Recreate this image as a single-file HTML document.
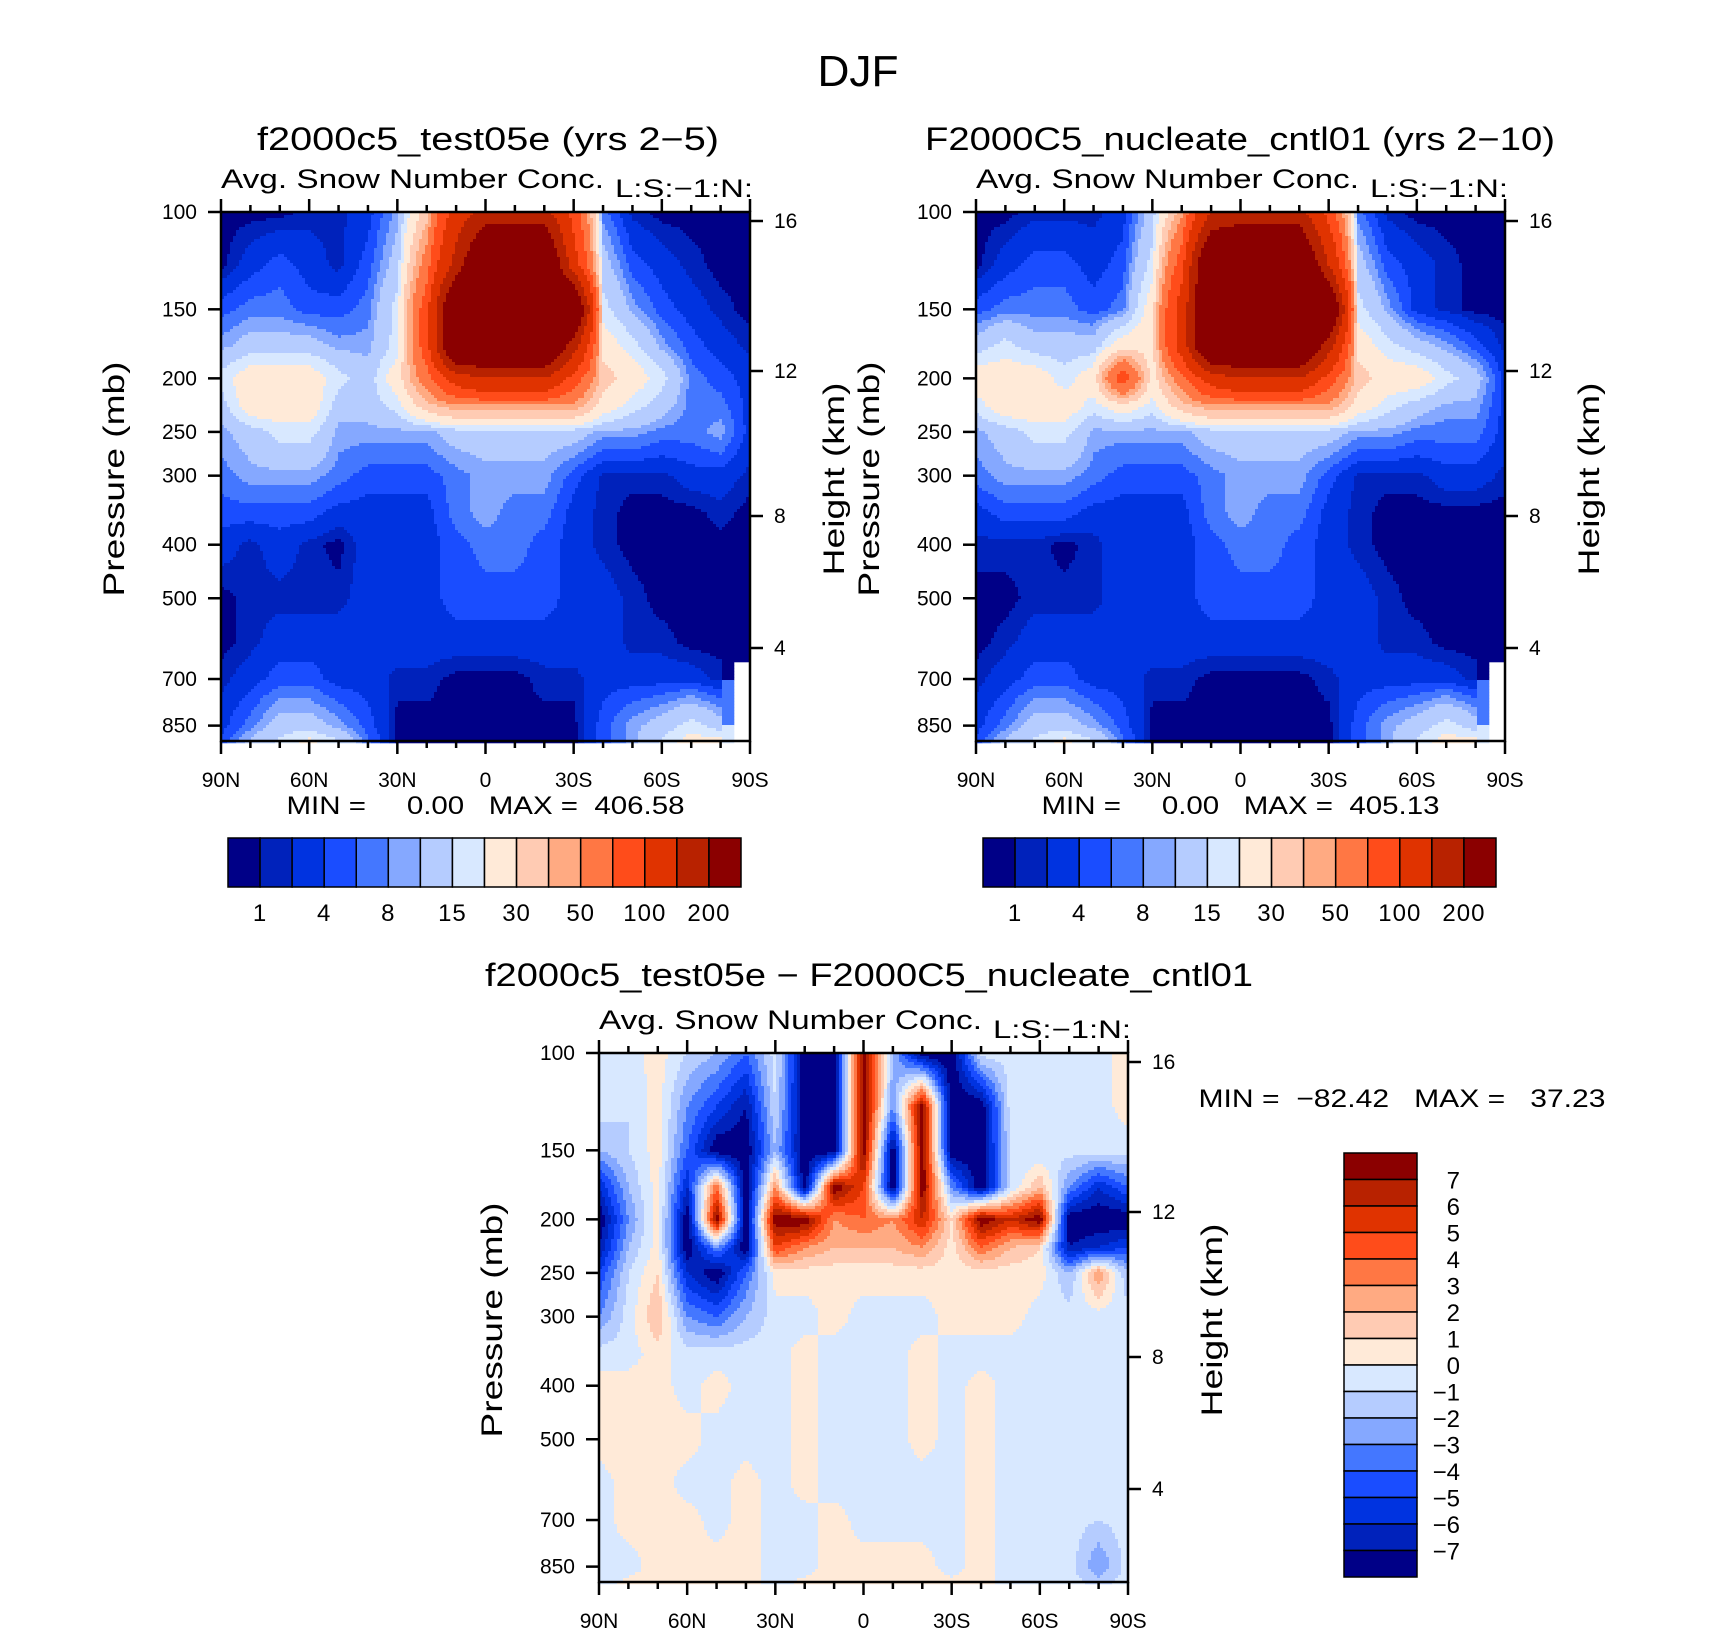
<!DOCTYPE html>
<html><head><meta charset="utf-8"><style>
html,body{margin:0;padding:0;background:#fff;}
svg{display:block;font-family:"Liberation Sans",sans-serif;}
text{fill:#000;white-space:pre;}
</style></head><body>
<svg id="root" width="1710" height="1631" viewBox="0 0 1710 1631" xmlns="http://www.w3.org/2000/svg">
<text x="858" y="86" font-size="44" text-anchor="middle" textLength="81" lengthAdjust="spacingAndGlyphs">DJF</text>
<g id="p1"></g>
<g id="p2"></g>
<g id="p3"></g>
</svg>
<script>
const NS="http://www.w3.org/2000/svg";
const lats=[90,80,70,60,50,40,30,20,10,0,-10,-20,-30,-40,-50,-60,-70,-80,-90];
const pressures=[100,125,150,175,200,225,250,300,350,400,500,600,700,850,925];
const pTicks=[100,150,200,250,300,400,500,700,850];
const latTickVals=[90,60,30,0,-30,-60,-90];
const latTickLabels=["90N","60N","30N","0","30S","60S","90S"];
const hTickLabels=["16","12","8","4"];
const hTickOffsets=[9,159,304,436];
const colors=["#000087","#0022bb","#0033e0","#1a4dff","#4477ff","#85a8ff","#b5ccff","#d8e8ff","#ffead8","#ffcbb3","#ffaa82","#ff7744","#ff4c1a","#e03300","#b82200","#8b0000"];
const levelsAbs=[1,2,4,6,8,10,15,20,30,40,50,70,100,150,200];
const absLabels=["1","4","8","15","30","50","100","200"];
const levelsDiff=[-7,-6,-5,-4,-3,-2,-1,0,1,2,3,4,5,6,7];
const diffLabels=["7","6","5","4","3","2","1","0","−1","−2","−3","−4","−5","−6","−7"];
const N=null;
const field1=[
[0.5,0.5,0.5,1.5,1.5,3,9,35,120,170,170,170,85,7,1.5,0.5,0.5,0.5,0.5],
[0.5,3,5,3,1.5,5,12,60,170,300,300,300,120,12,5,3,1.5,0.5,0.5],
[5,7,7,5,5,7,17,85,300,300,300,300,300,17,9,5,3,1.5,0.5],
[9,12,12,12,9,9,17,85,300,300,300,300,170,25,17,9,5,3,1.5],
[17,25,25,25,17,12,25,60,120,150,150,150,85,35,25,17,7,5,3],
[12,25,25,25,12,12,17,35,45,45,45,45,45,25,17,12,7,7,3],
[9,12,17,17,9,9,9,9,12,12,12,12,12,9,9,7,7,9,3],
[7,9,9,9,7,5,5,5,7,9,9,9,5,1.5,1.5,1.5,3,3,1.5],
[5,5,5,5,3,3,3,3,7,9,7,7,3,1.5,0.5,0.5,0.5,1.5,0.5],
[3,1.5,3,1.5,0.5,3,3,3,5,7,7,5,3,1.5,0.5,0.5,0.5,0.5,0.5],
[0.5,1.5,1.5,1.5,1.5,3,3,3,5,5,5,5,3,3,1.5,0.5,0.5,0.5,0.5],
[0.5,1.5,3,3,3,3,3,3,3,3,3,3,3,3,1.5,1.5,0.5,0.5,0.5],
[1.5,3,5,5,3,3,1.5,1.5,0.5,0.5,0.5,1.5,1.5,3,3,3,3,1.5,N],
[3,7,12,12,9,5,0.5,0.5,0.5,0.5,0.5,0.5,0.5,5,9,12,17,12,N],
[5,12,17,25,17,7,0.5,0.5,0.5,0.5,0.5,0.5,0.5,5,9,17,25,25,N]];
const field2=[
[0.5,0.5,1.5,1.5,1.5,3,12,45,150,170,170,170,85,7,1.5,0.5,0.5,0.5,0.5],
[0.5,3,5,5,3,5,17,85,300,300,300,300,150,12,5,3,1.5,0.5,0.5],
[5,7,7,7,5,7,25,120,300,300,300,300,300,17,9,3,1.5,0.5,0.5],
[12,17,12,12,12,25,25,120,300,300,300,300,170,25,17,12,9,5,1.5],
[25,25,25,17,25,85,25,60,120,150,150,150,85,35,25,25,17,12,3],
[17,25,25,25,17,25,17,35,45,45,45,45,45,25,17,12,9,9,3],
[9,12,17,17,9,9,9,9,12,12,12,12,12,9,9,7,7,7,3],
[7,9,9,9,7,5,5,5,7,9,9,9,5,1.5,1.5,1.5,3,3,1.5],
[3,5,5,5,3,3,3,3,7,9,7,7,3,1.5,0.5,0.5,0.5,0.5,0.5],
[1.5,1.5,1.5,0.5,1.5,3,3,3,5,7,7,5,3,1.5,0.5,0.5,0.5,0.5,0.5],
[0.5,0.5,1.5,1.5,1.5,3,3,3,5,5,5,5,3,3,1.5,0.5,0.5,0.5,0.5],
[0.5,1.5,3,3,3,3,3,3,3,3,3,3,3,3,1.5,1.5,0.5,0.5,0.5],
[1.5,3,5,5,3,3,1.5,1.5,0.5,0.5,0.5,0.5,1.5,3,3,3,3,1.5,N],
[3,7,12,12,9,5,0.5,0.5,0.5,0.5,0.5,0.5,0.5,5,9,12,17,12,N],
[5,12,17,25,17,7,0.5,0.5,0.5,0.5,0.5,0.5,0.5,5,9,17,25,25,N]];
const fieldDiff=[
[-0.5,-0.5,0.5,-1,-2,-4,-0.5,-8,-8,8,-2,-8,-8,-0.5,-0.5,-0.5,-0.5,-0.5,0.5],
[-0.5,-1,0.5,-3,-5,-7,-1,-8,-8,8,-3,8,-8,-8,-0.5,-0.5,-0.5,-0.5,0.5],
[-2,-1,0.5,-4,-8,-8,-2,-8,-8,8,-8,8,-8,-8,-1,-1,-0.5,-0.5,-0.5],
[-6,-2,0.5,-6,4,-8,3,-8,8,5,-8,8,-3,-8,-1,2,-3,-6,-4],
[-8,-3,0.5,-8,8,-8,8,8,3,4,3,6,1,8,6,8,-8,-8,-8],
[-7,-2,0.5,-8,-3,-8,5,3,2,2,2,3,0.5,4,2,1,-7,-6,-5],
[-5,-1,1,-6,-8,-4,0.5,0.5,0.5,0.5,0.5,0.5,0.5,0.5,0.5,0.5,-2,3,-2],
[-3,-0.5,2,-3,-4,-2,-0.5,-0.5,0.5,-0.5,-0.5,-0.5,0.5,0.5,0.5,-0.5,-0.5,-0.5,-0.5],
[-0.5,-0.5,0.5,-0.5,-0.5,-0.5,-0.5,0.5,-0.5,-0.5,-0.5,0.5,-0.5,-0.5,-0.5,-0.5,-0.5,-0.5,-0.5],
[0.5,0.5,0.5,-0.5,0.5,-0.5,-0.5,0.5,-0.5,-0.5,-0.5,0.5,-0.5,0.5,-0.5,-0.5,-0.5,-0.5,-0.5],
[0.5,0.5,0.5,0.5,-0.5,-0.5,-0.5,0.5,-0.5,-0.5,-0.5,0.5,-0.5,0.5,-0.5,-0.5,-0.5,-0.5,-0.5],
[-0.5,0.5,0.5,-0.5,-0.5,0.5,-0.5,0.5,-0.5,-0.5,-0.5,-0.5,-0.5,0.5,-0.5,-0.5,-0.5,-0.5,-0.5],
[-0.5,0.5,0.5,0.5,-0.5,0.5,-0.5,-0.5,0.5,-0.5,-0.5,-0.5,-0.5,0.5,-0.5,-0.5,-0.5,-1,-0.5],
[-0.5,-0.5,0.5,0.5,0.5,0.5,-0.5,-0.5,0.5,0.5,0.5,0.5,-0.5,0.5,-0.5,-0.5,-0.5,-3,-0.5],
[-0.5,0.5,0.5,0.5,0.5,0.5,-0.5,0.5,0.5,0.5,0.5,0.5,0.5,0.5,-0.5,-0.5,-0.5,-1,-0.5]];

const W=529,H=529,K=240;
function el(tag,attrs,parent,txt){const e=document.createElementNS(NS,tag);for(const k in attrs)e.setAttribute(k,attrs[k]);if(txt!==undefined)e.textContent=txt;parent.appendChild(e);return e;}
function xScale(lat){return (90-lat)/180*W;}
function yScale(p){return (Math.log(p)-Math.log(100))*K;}
function binOf(v,levels){let b=0;while(b<levels.length&&v>=levels[b])b++;return b;}
const lnP=pressures.map(p=>Math.log(p));
function sample(data,lat,p){
  const fx=(90-lat)/10;const lp=Math.log(p);
  let r=0;while(r<lnP.length-2&&lp>lnP[r+1])r++;
  let fy=(lp-lnP[r])/(lnP[r+1]-lnP[r]);fy=Math.max(0,Math.min(1,fy));
  let c=Math.min(Math.floor(fx),lats.length-2);const tx=fx-c;
  const v00=data[r][c],v01=data[r][c+1],v10=data[r+1][c],v11=data[r+1][c+1];
  const vals=[v00,v01,v10,v11];
  if(vals.some(v=>v===null)){
    const near=data[fy<0.5?r:r+1][tx<0.5?c:c+1];
    if(near===null)return null;
    const ok=vals.filter(v=>v!==null);return ok.reduce((a,b)=>a+b,0)/ok.length;
  }
  return (v00*(1-tx)+v01*tx)*(1-fy)+(v10*(1-tx)+v11*tx)*fy;
}
function drawField(g,data,levels,ox,oy,name){
  const fg=el('g',{},g);
  
  
  const S=3;
  for(let py=0;py<H;py+=S){
    const p=100*Math.exp((py+S/2)/K);
    let runStart=0,runB=-2;
    const flush=(end)=>{ if(runB>=0){const r=el('rect',{x:ox+runStart,y:oy+py,width:end-runStart+0.3,height:S+0.3,fill:colors[runB]},fg);
      
      }};
    for(let px=0;px<W;px+=S){
      const lat=90-(px+S/2)/W*180;
      const v=sample(data,lat,p);
      const b=v===null?-1:binOf(v,levels);
      if(b!==runB){flush(px);runStart=px;runB=b;}
    }
    flush(W);
  }
}
function drawAxes(g,ox,oy){
  const ax=el('g',{stroke:'#000','stroke-width':2.5,fill:'none'},g);
  
  
  el('rect',{x:ox,y:oy,width:W,height:H},ax);
  for(let lat=90;lat>=-90;lat-=10){
    const x=ox+xScale(lat);const major=lat%30===0;const L=major?13:7;
    el('line',{x1:x,y1:oy,x2:x,y2:oy-L},ax);
    el('line',{x1:x,y1:oy+H,x2:x,y2:oy+H+L},ax);
  }
  latTickVals.forEach((lat,i)=>{const t=el('text',{x:ox+xScale(lat),y:oy+H+46,'font-size':21,'text-anchor':'middle'},g,latTickLabels[i]);
    });
  pTicks.forEach(p=>{const y=oy+yScale(p);el('line',{x1:ox,y1:y,x2:ox-13,y2:y},ax);
    const t=el('text',{x:ox-24,y:y+7,'font-size':21,'text-anchor':'end'},g,String(p));
    });
  hTickOffsets.forEach((o,i)=>{const y=oy+o;el('line',{x1:ox+W,y1:y,x2:ox+W+13,y2:y},ax);
    const t=el('text',{x:ox+W+24,y:y+7,'font-size':21},g,hTickLabels[i]);
    });
  const a=el('text',{x:ox,y:oy-24,'font-size':27,textLength:383,lengthAdjust:'spacingAndGlyphs'},g,'Avg. Snow Number Conc.');
  
  const b=el('text',{x:ox+W-135,y:oy-15,'font-size':25,textLength:138,lengthAdjust:'spacingAndGlyphs'},g,'L:S:−1:N:');
  
  const yt=el('text',{x:0,y:0,'font-size':30,'text-anchor':'middle',textLength:235,lengthAdjust:'spacingAndGlyphs',transform:`translate(${ox-97},${oy+267}) rotate(-90)`},g,'Pressure (mb)');
  
  const ht=el('text',{x:0,y:0,'font-size':30,'text-anchor':'middle',textLength:193,lengthAdjust:'spacingAndGlyphs',transform:`translate(${ox+W+94},${oy+267}) rotate(-90)`},g,'Height (km)');
  
}
function panel(id,data,ox,oy,title,tx,tlen,minmax){
  const g=document.getElementById(id);
  drawField(g,data,levelsAbs,ox,oy,'contour-field');
  drawAxes(g,ox,oy);
  const t=el('text',{x:tx,y:oy-62,'font-size':32,'text-anchor':'middle',textLength:tlen,lengthAdjust:'spacingAndGlyphs'},g,title);
  
  const m=el('text',{x:ox+W/2,y:oy+H+73,'font-size':25,'text-anchor':'middle',textLength:398,lengthAdjust:'spacingAndGlyphs'},g,minmax);
  
  const cb=el('g',{},g);
  
  const cx=ox+7,cw=513,cy=oy+626,ch=49,bw=cw/16;
  colors.forEach((c,i)=>{const r=el('rect',{x:cx+i*bw,y:cy,width:bw,height:ch,fill:c,stroke:'#000','stroke-width':1.5},cb);
    });
  absLabels.forEach((l,i)=>{const tt=el('text',{x:cx+(2*i+1)*bw,y:cy+ch+34,'font-size':24,'letter-spacing':1,'text-anchor':'middle'},cb,l);
    });
}
panel('p1',field1,221,212,'f2000c5_test05e (yrs 2−5)',488,462,'MIN =     0.00   MAX =  406.58');
panel('p2',field2,976,212,'F2000C5_nucleate_cntl01 (yrs 2−10)',1240,630,'MIN =     0.00   MAX =  405.13');
(function(){
  const g=document.getElementById('p3');const ox=599,oy=1053;
  drawField(g,fieldDiff,levelsDiff,ox,oy,'difference-field');
  drawAxes(g,ox,oy);
  const t=el('text',{x:869,y:oy-67,'font-size':32,'text-anchor':'middle',textLength:768,lengthAdjust:'spacingAndGlyphs'},g,'f2000c5_test05e − F2000C5_nucleate_cntl01');
  
  const m=el('text',{x:1402,y:1107,'font-size':25,'text-anchor':'middle',textLength:407,lengthAdjust:'spacingAndGlyphs'},g,'MIN =  −82.42   MAX =   37.23');
  
  const cb=el('g',{},g);
  
  const cx=1344,cw=73,cy=1153,ch=424,bh=ch/16;
  colors.slice().reverse().forEach((c,i)=>{const r=el('rect',{x:cx,y:cy+i*bh,width:cw,height:bh,fill:c,stroke:'#000','stroke-width':1.5},cb);
    });
  diffLabels.forEach((l,i)=>{const tt=el('text',{x:1460,y:cy+(i+1)*bh+9,'font-size':24,'text-anchor':'end'},cb,l);
    });
})();
</script>
</body></html>
